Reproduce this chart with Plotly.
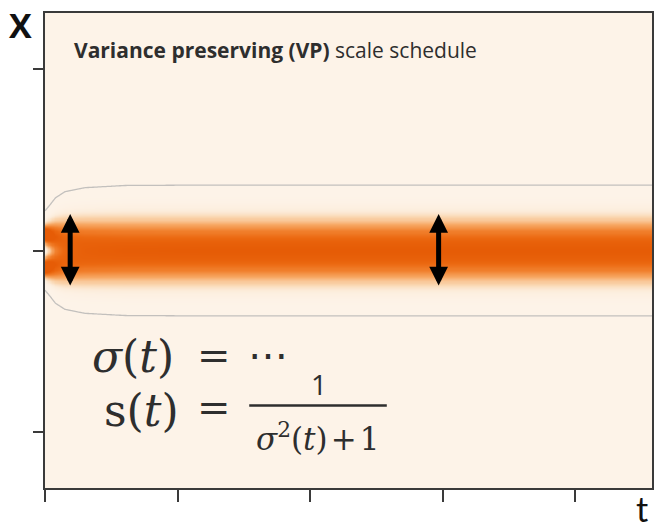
import numpy as np
import plotly.graph_objects as go

# --- schedule read at a handful of diffusion times ---------------------
sched_t = [0.0, 0.03, 0.08, 0.15, 0.3, 0.6, 1.2, 2.5, 4.6]
mean_scale = [1.0, 0.95, 0.85, 0.75, 0.67, 0.62, 0.60, 0.60, 0.60]
spread = [0.028, 0.035, 0.048, 0.058, 0.065, 0.069, 0.070, 0.070, 0.070]

# two data modes at t = 0
data_points = [-0.09, 0.09]

x_ticks = [0, 1, 2, 3, 4]
y_ticks = [-1, 0, 1]
x_range = [0, 4.58]
y_range = [-1.305, 1.305]

# double arrows marking the band width
arrow_t = [0.19, 2.97]
arrow_half = 0.2

# --- density of x(t) on a grid ------------------------------------------
t_grid = np.concatenate([np.linspace(0.0, 0.3, 70), np.linspace(0.31, 4.6, 160)])
y_grid = np.linspace(-1.31, 1.31, 440)
T, Y = np.meshgrid(t_grid, y_grid)
M = np.interp(T, sched_t, mean_scale)
S = np.interp(T, sched_t, spread)
dens = np.zeros_like(T)
w = 1.0 / len(data_points)
for x0 in data_points:
    dens += w * np.exp(-0.5 * ((Y - M * x0) / S) ** 2) / (S * np.sqrt(2 * np.pi))
z = (dens / dens[:, -1].max()).astype(np.float32)

oranges = [
    [0.0, "rgb(253,243,232)"],
    [0.04, "rgb(252,236,218)"],
    [0.12, "rgb(250,214,176)"],
    [0.3, "rgb(247,168,100)"],
    [0.55, "rgb(241,128,45)"],
    [0.8, "rgb(235,104,16)"],
    [1.0, "rgb(230,92,6)"],
]

fig = go.Figure()
fig.add_trace(go.Heatmap(
    x=t_grid, y=y_grid, z=z, colorscale=oranges, zmin=0, zmax=1,
    showscale=False, hoverinfo="skip", zsmooth="best",
))
contour_level = 5e-5
fig.add_trace(go.Contour(
    x=t_grid, y=y_grid, z=z, autocontour=False,
    contours=dict(start=contour_level, end=contour_level, size=1, coloring="none"),
    line=dict(color="rgba(175,175,175,0.75)", width=1.3),
    showscale=False, hoverinfo="skip",
))

annotations = []
for ta in arrow_t:
    annotations.append(dict(
        x=ta, y=arrow_half, ax=ta, ay=-arrow_half,
        xref="x", yref="y", axref="x", ayref="y",
        text="", showarrow=True, arrowside="end+start",
        arrowhead=2, startarrowhead=2, arrowwidth=5,
        arrowsize=0.75, startarrowsize=0.75, arrowcolor="black",
    ))

text_col = "#2e2e2e"
math_font = "DejaVu Serif"


def note(x, y, text, size, family=math_font, anchor="left", ref="x", color=text_col):
    return dict(x=x, y=y, xref=ref, yref=ref.replace("x", "y"), xanchor=anchor,
                yanchor="middle", showarrow=False, text=text,
                font=dict(family=family, size=size, color=color))


annotations += [
    note(0.203, 1.099, "<b>Variance preserving (VP)</b> scale schedule", 21, family="Open Sans"),
    note(-0.04, 0.975, "<b>X</b>", 34, family="Open Sans", anchor="center", ref="paper", color="#111111"),
    note(0.997, -0.044, "t", 34, family="Lato", anchor="right", ref="paper", color="#111111"),
    # sigma(t) = ...
    note(0.338, -0.582, "<i>σ</i>(<i>t</i>)", 44),
    note(1.278, -0.575, "=", 40, anchor="center"),
    note(1.684, -0.575, "⋯", 40, anchor="center"),
    # s(t) = 1 / (sigma^2(t) + 1)
    note(0.429, -0.879, "s(<i>t</i>)", 44),
    note(1.278, -0.862, "=", 40, anchor="center"),
    note(2.068, -0.736, "1", 28, family="Open Sans", anchor="center"),
    note(2.06, -1.027, "<i>σ</i><sup>2</sup>(<i>t</i>)\u200a+\u200a1", 31, anchor="center"),
]

axis_style = dict(
    showline=True, linecolor="#3a3a3a", linewidth=2, mirror=True,
    ticks="outside", tickwidth=2, tickcolor="#3a3a3a",
    showticklabels=False, showgrid=False, zeroline=False,
)

fig.update_layout(
    width=657, height=532,
    margin=dict(l=45, r=3, t=13, b=44),
    paper_bgcolor="white", plot_bgcolor="rgb(253,243,232)",
    annotations=annotations,
    shapes=[dict(type="line", xref="x", yref="y", x0=1.541, x1=2.579, y0=-0.852, y1=-0.852,
                 line=dict(color=text_col, width=2.5))],
    xaxis=dict(range=x_range, tickvals=x_ticks, ticklen=12, **axis_style),
    yaxis=dict(range=y_range, tickvals=y_ticks, ticklen=10, **axis_style),
    showlegend=False,
)

fig.write_html("out.html")
